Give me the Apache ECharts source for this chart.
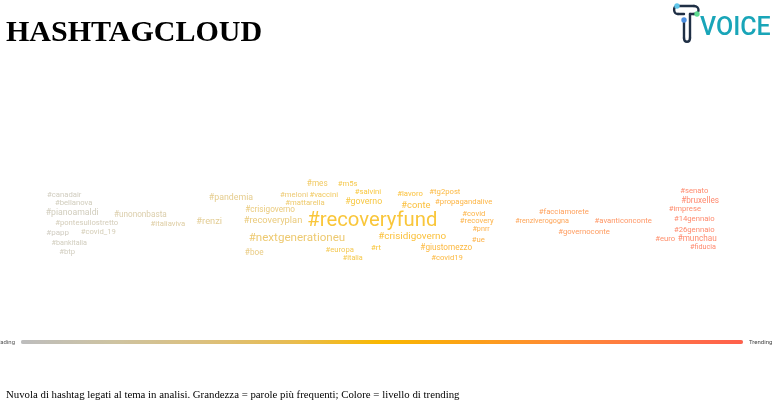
<!DOCTYPE html>
<html>
<head>
<meta charset="utf-8">
<script src="https://cdn.jsdelivr.net/npm/echarts@6/dist/echarts.min.js"></script>
<style>
html,body{margin:0;padding:0;background:#fff;}
#chart{width:776px;height:405px;}
</style>
</head>
<body>
<div id="chart"></div>
<script>
// Hashtags, their trending score (horizontal), vertical placement in the cloud, and frequency (text size)
const words = ["#canadair","#bellanova","#pianoamaldi","#pontesullostretto","#papp","#covid_19","#bankitalia","#btp",
  "#unononbasta","#italiaviva","#renzi","#pandemia","#crisigoverno","#recoveryplan","#nextgenerationeu","#boe",
  "#mes","#m5s","#meloni","#vaccini","#salvini","#mattarella","#governo","#recoveryfund","#europa","#italia","#rt",
  "#lavoro","#tg2post","#conte","#propagandalive","#covid","#recovery","#pnrr","#crisidigoverno","#ue","#giustomezzo","#covid19",
  "#facciamorete","#renziverogogna","#avanticonconte","#governoconte",
  "#senato","#bruxelles","#imprese","#14gennaio","#26gennaio","#euro","#munchau","#fiducia"];
const trend = [6.1,7.4,7.2,9.2,5.2,10.8,6.8,6.5,
  16.6,20.4,26.1,29.1,34.5,34.9,38.2,32.3,
  41.0,45.2,37.8,41.9,48.0,39.3,47.4,48.6,44.1,45.9,49.1,
  53.8,58.6,54.6,61.2,62.6,63.0,63.6,54.1,63.2,58.8,58.9,
  75.0,72.0,83.2,77.8,
  93.0,93.8,91.7,93.0,93.0,89.0,93.4,94.2];
const placement = [25,33,43,53,63,62,73,82,
  45,54,52,28,40,51,68,83,
  14,14,25,25,22,33,32,51,80,88,78,
  24,22,36,32,44,51,59,67,70,78,88,
  42,51,51,62,
  21,31,39,49,60,69,69,77];
const frequency = [7.7,7.7,8.7,7.7,8,7.7,7.2,7.7,
  8.2,7.7,9.3,8.8,8.2,9.3,11.6,8.2,
  8.2,7.7,7.7,7.7,7.7,7.7,8.8,20.3,7.7,7.2,7.7,
  7.7,7.7,9.3,7.7,7.7,7.7,7.2,9.9,7.7,8.2,7.7,
  7.7,7.2,7.7,7.7,
  7.7,8.2,7.7,7.7,7.7,7.7,8.2,7.2];
const legendText = ["Trending","Fading"];
const palette = ["#bdbdbd","#cdc3a2","#dbc07f","#e8bc50","#f9b800","#fca018","#ff8a35","#ff7545","#ff604c"];

const data = words.map((w, i) => ({
  name: w,
  value: [trend[i], placement[i], frequency[i]],
  label: { fontSize: frequency[i] }
}));

const logoStroke = { stroke: '#1f2f45', lineWidth: 2.4, fill: null, lineCap: 'round' };
const legendFont = '6px Roboto, sans-serif';

const chart = echarts.init(document.getElementById('chart'), null, {renderer: 'canvas'});
chart.setOption({
  backgroundColor: '#ffffff',
  animation: false,
  grid: { left: 20, width: 725, top: 170, height: 100 },
  xAxis: { type: 'value', min: 0, max: 100, show: false },
  yAxis: { type: 'value', min: 0, max: 100, inverse: true, show: false },
  visualMap: {
    type: 'continuous',
    min: 0, max: 100,
    dimension: 0,
    seriesIndex: 0,
    orient: 'horizontal',
    left: 21, top: 340,
    padding: 0,
    itemWidth: 4,
    itemHeight: 722,
    calculable: false,
    text: null,
    inRange: { color: palette }
  },
  series: [{
    type: 'scatter',
    silent: true,
    symbolSize: 0,
    data: data,
    label: {
      show: true,
      position: 'inside',
      formatter: '{b}',
      color: 'inherit',
      fontFamily: 'Roboto',
      fontWeight: 'normal'
    }
  }],
  graphic: [
    { type: 'text', x: -3, y: 342, style: { text: legendText[1], font: legendFont, fill: '#555', verticalAlign: 'middle' } },
    { type: 'text', x: 749, y: 342, style: { text: legendText[0], font: legendFont, fill: '#444', verticalAlign: 'middle' } },
    { type: 'text', left: 6, top: 18, style: { text: 'HASHTAGCLOUD', font: 'bold 30px "Liberation Serif", "Times New Roman", serif', fill: '#000' } },
    { type: 'text', left: 6, top: 390, style: { text: 'Nuvola di hashtag legati al tema in analisi. Grandezza = parole più frequenti; Colore = livello di trending', font: '10.8px "Liberation Serif", "Times New Roman", serif', fill: '#000' } },
    { type: 'line', shape: { x1: 677, y1: 6, x2: 694, y2: 6 }, style: logoStroke },
    { type: 'bezierCurve', shape: { x1: 694, y1: 6, cpx1: 700, cpy1: 6, cpx2: 700, cpy2: 14, x2: 694, y2: 14 }, style: logoStroke },
    { type: 'line', shape: { x1: 694, y1: 14, x2: 690, y2: 14 }, style: logoStroke },
    { type: 'line', shape: { x1: 690, y1: 14, x2: 690, y2: 38 }, style: logoStroke },
    { type: 'bezierCurve', shape: { x1: 690, y1: 38, cpx1: 690, cpy1: 43, cpx2: 684, cpy2: 43, x2: 684, y2: 38 }, style: logoStroke },
    { type: 'line', shape: { x1: 684, y1: 38, x2: 684, y2: 20 }, style: logoStroke },
    { type: 'bezierCurve', shape: { x1: 677, y1: 6, cpx1: 673, cpy1: 6, cpx2: 673, cpy2: 14, x2: 678, y2: 14 }, style: logoStroke },
    { type: 'line', shape: { x1: 678, y1: 14, x2: 684, y2: 14 }, style: logoStroke },
    { type: 'circle', shape: { cx: 677, cy: 6, r: 2.7 }, style: { fill: '#5fc6ea' } },
    { type: 'circle', shape: { cx: 697, cy: 14, r: 2.7 }, style: { fill: '#5edb90' } },
    { type: 'circle', shape: { cx: 684, cy: 20, r: 2.7 }, style: { fill: '#4c8fe0' } },
    { type: 'text', left: 700, top: 16, style: { text: 'VOICE', font: '500 25px Roboto, sans-serif', fill: '#19a5b8' } }
  ]
});
</script>
</body>
</html>
